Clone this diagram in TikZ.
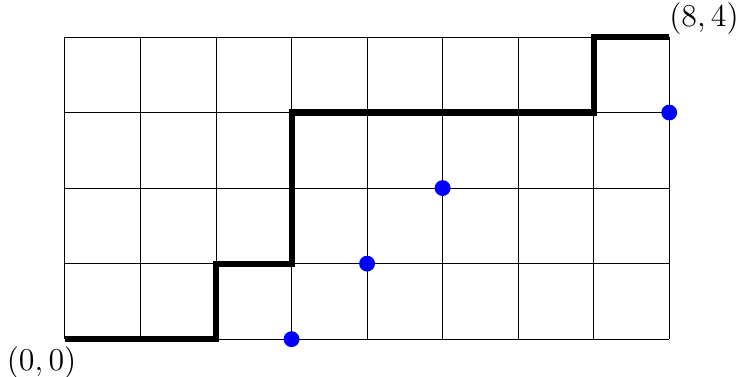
\documentclass[tikz,border=0pt]{standalone}
\usepackage{tikz}

\begin{document}
\begin{tikzpicture}[scale=1]
	\useasboundingbox (-0.86,-0.50) rectangle (8.95,4.49);
	\draw[thin] (0,0) grid (8,4);
	
	\draw[line width=2.3pt] (0,0)--(2,0)--(2,1)--(3,1)--(3,3)--(7,3)--(7,4)--(8,4);
	
	\foreach \x/\y in {3/0, 4/1, 5/2, 8/3}
	\fill[blue] (\x,\y) circle (0.105);
	
	\node[font=\large] (start) at (-0.31,-0.31) {$(0,0)$};
	\node[font=\large] (end) at (8.46,4.25) {$(8,4)$};
	\end{tikzpicture}
\end{document}
